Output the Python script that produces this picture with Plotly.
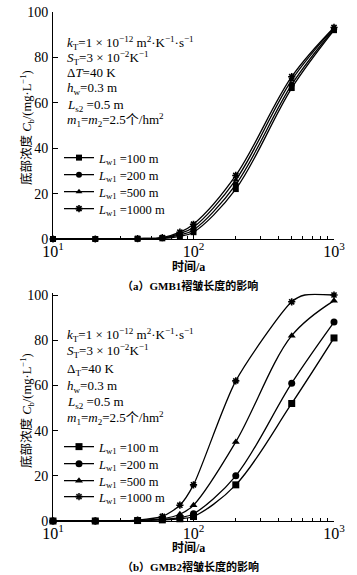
import plotly.graph_objects as go

# ---------------- data ----------------
years = [10, 20, 40, 60, 80, 100, 200, 500, 1000]
series_names = ["100 m", "200 m", "500 m", "1000 m"]

# (a) GMB1
gmb1_100 = [0, 0, 0.1, 0.3, 1.2, 3.0, 22.0, 66.5, 92.0]
gmb1_200 = [0, 0, 0.1, 0.4, 1.8, 4.0, 24.0, 68.0, 92.5]
gmb1_500 = [0, 0, 0.2, 0.5, 2.4, 5.2, 26.0, 70.0, 93.0]
gmb1_1000 = [0, 0, 0.2, 0.6, 3.0, 6.5, 28.0, 71.5, 93.2]

# (b) GMB2
gmb2_100 = [0, 0, 0.2, 0.5, 1.0, 2.0, 16.0, 52.0, 81.0]
gmb2_200 = [0, 0, 0.2, 0.7, 1.5, 3.2, 20.0, 61.0, 88.0]
gmb2_500 = [0, 0, 0.3, 1.0, 3.0, 7.0, 35.0, 82.0, 97.5]
years_gmb2_1000 = [10, 20, 40, 60, 80, 100, 200, 500, 620, 1000]
gmb2_1000 = [0, 0, 0.4, 2.0, 7.0, 16.0, 62.0, 97.0, 100.0, 100.0]
gmb2_1000_marked = [1, 1, 1, 1, 1, 1, 1, 1, 0, 1]

xticks = [10, 100, 1000]
xtick_text = ["10<sup>1</sup>", "10<sup>2</sup>", "10<sup>3</sup>"]
minor_ticks = [20, 30, 40, 50, 60, 70, 80, 90, 200, 300, 400, 500, 600, 700, 800, 900]

symbols = ["square", "circle", "triangle-up", "asterisk-open"]

FONT = "Liberation Serif, Noto Sans CJK SC, serif"
W, H = 357, 575


def py(p):
    return 1 - p / H


fig = go.Figure()
legend_layout = {}
leg_counter = [0]

# legend item centres (px)
leg_y_top = [158, 175, 192, 209]
leg_y_bot = [447, 464, 481, 497]
LEG_X = 59


def add_series(x, y, name, sym, xa, ya, leg_y, msize, opac=None, smooth=1.0):
    leg_counter[0] += 1
    k = leg_counter[0]
    lname = "legend" if k == 1 else "legend%d" % k
    fig.add_trace(go.Scatter(
        x=x, y=y, mode="lines+markers",
        name="<i>L</i><sub>w1</sub> =" + name,
        line=dict(color="black", width=1.3, shape="spline", smoothing=smooth),
        marker=dict(symbol=sym, size=msize,
                    color="black",
                    line=dict(color="black", width=1.6 if sym == "asterisk-open" else 0),
                    opacity=opac),
        xaxis=xa, yaxis=ya, legend=lname, cliponaxis=False,
    ))
    legend_layout[lname] = dict(
        font=dict(family=FONT, size=12.5, color="black"), bgcolor="rgba(0,0,0,0)",
        xanchor="left", yanchor="middle", itemwidth=30,
        x=LEG_X / W, y=py(leg_y),
    )


for nm, ys, sym, ly in zip(series_names, [gmb1_100, gmb1_200, gmb1_500, gmb1_1000], symbols, leg_y_top):
    add_series(years, ys, nm, sym, "x", "y", ly, 6)

for nm, ys, sym, ly in zip(series_names[:3], [gmb2_100, gmb2_200, gmb2_500], symbols[:3], leg_y_bot[:3]):
    add_series(years, ys, nm, sym, "x2", "y2", ly, 7)
add_series(years_gmb2_1000, gmb2_1000, series_names[3], symbols[3], "x2", "y2", leg_y_bot[3], 6,
           opac=gmb2_1000_marked, smooth=0.7)

# plot areas (px)
x0, x1 = 53, 334
top_t, top_b = 12, 239
bot_t, bot_b = 295, 521
# small headroom above 100 on the lower panel so the flat 100 line isn't clipped
bot_ymax = 100.8
bot_t_ext = bot_b - (bot_b - bot_t) * bot_ymax / 100.0

xaxis_common = dict(
    type="log", range=[1, 3], tickmode="array", tickvals=xticks, ticktext=xtick_text,
    ticks="inside", ticklen=6, tickcolor="black", showline=True, linecolor="black",
    linewidth=1, showgrid=False, zeroline=False, ticklabelstandoff=-2, automargin=False,
    tickfont=dict(family=FONT, size=16, color="black"),
    minor=dict(tickmode="array", tickvals=minor_ticks, ticks="inside", ticklen=3,
               tickcolor="black", showgrid=False),
    domain=[x0 / W, x1 / W],
)
yaxis_common = dict(
    tickmode="array", tickvals=[0, 20, 40, 60, 80, 100],
    ticks="inside", ticklen=5, tickcolor="black", showline=True, linecolor="black",
    linewidth=1, showgrid=False, zeroline=False, ticklabelstandoff=1, automargin=False,
    tickfont=dict(family=FONT, size=14, color="black"),
)

fig.update_layout(
    width=W, height=H, margin=dict(l=0, r=0, t=0, b=0, pad=0, autoexpand=False),
    paper_bgcolor="white", plot_bgcolor="white",
    font=dict(family=FONT, color="black"),
    xaxis=dict(xaxis_common, anchor="y"),
    yaxis=dict(yaxis_common, anchor="x", range=[0, 100], domain=[py(top_b), py(top_t)]),
    xaxis2=dict(xaxis_common, anchor="y2"),
    yaxis2=dict(yaxis_common, anchor="x2", range=[0, bot_ymax], domain=[py(bot_b), py(bot_t_ext)]),
    showlegend=True,
)
fig.update_layout(**legend_layout)

ann = []
params_a = [
    "<i>k</i><sub>T</sub>=1 × 10<sup>−12</sup> m<sup>2</sup>·K<sup>−1</sup>·s<sup>−1</sup>",
    "<i>S</i><sub>T</sub>=3 × 10<sup>−2</sup>K<sup>−1</sup>",
    "Δ<i>T</i>=40 K",
    "<i>h</i><sub>w</sub>=0.3 m",
    "<i>L</i><sub>s2</sub> =0.5 m",
    "<i>m</i><sub>1</sub>=<i>m</i><sub>2</sub>=2.5个/hm<sup>2</sup>",
]
params_b = list(params_a)
params_b[2] = "Δ<sub>T</sub>=40 K"
ys_a = [43, 58, 73, 88, 105, 120]
ys_b = [335, 351, 369, 386, 402, 418]
for txt, yy in zip(params_a, ys_a):
    ann.append(dict(text=txt, x=65 / W, y=py(yy), xref="paper", yref="paper",
                    xanchor="left", yanchor="middle", showarrow=False,
                    font=dict(family=FONT, size=13, color="black")))
for txt, yy in zip(params_b, ys_b):
    ann.append(dict(text=txt, x=65 / W, y=py(yy), xref="paper", yref="paper",
                    xanchor="left", yanchor="middle", showarrow=False,
                    font=dict(family=FONT, size=13, color="black")))

ytitle = "底部浓度 <i>C</i><sub>b</sub>/(mg·L<sup>−1</sup>)"
for yc in [128, 411]:
    ann.append(dict(text=ytitle, x=27 / W, y=py(yc), xref="paper", yref="paper",
                    xanchor="center", yanchor="middle", textangle=-90, showarrow=False,
                    font=dict(family=FONT, size=12.5, color="black")))

for yy in [267, 548]:
    ann.append(dict(text="<b>时间/a</b>", x=188 / W, y=py(yy), xref="paper", yref="paper",
                    xanchor="center", yanchor="middle", showarrow=False,
                    font=dict(family=FONT, size=12, color="black")))
ann.append(dict(text="<b>（a）GMB1褶皱长度的影响</b>", x=190 / W, y=py(285), xref="paper", yref="paper",
                xanchor="center", yanchor="middle", showarrow=False,
                font=dict(family=FONT, size=11, color="black")))
ann.append(dict(text="<b>（b）GMB2褶皱长度的影响</b>", x=190 / W, y=py(566), xref="paper", yref="paper",
                xanchor="center", yanchor="middle", showarrow=False,
                font=dict(family=FONT, size=11, color="black")))

fig.update_layout(annotations=ann)

fig.write_html("out.html", config={"displayModeBar": False},
               post_script="document.body.style.margin='0px';")
